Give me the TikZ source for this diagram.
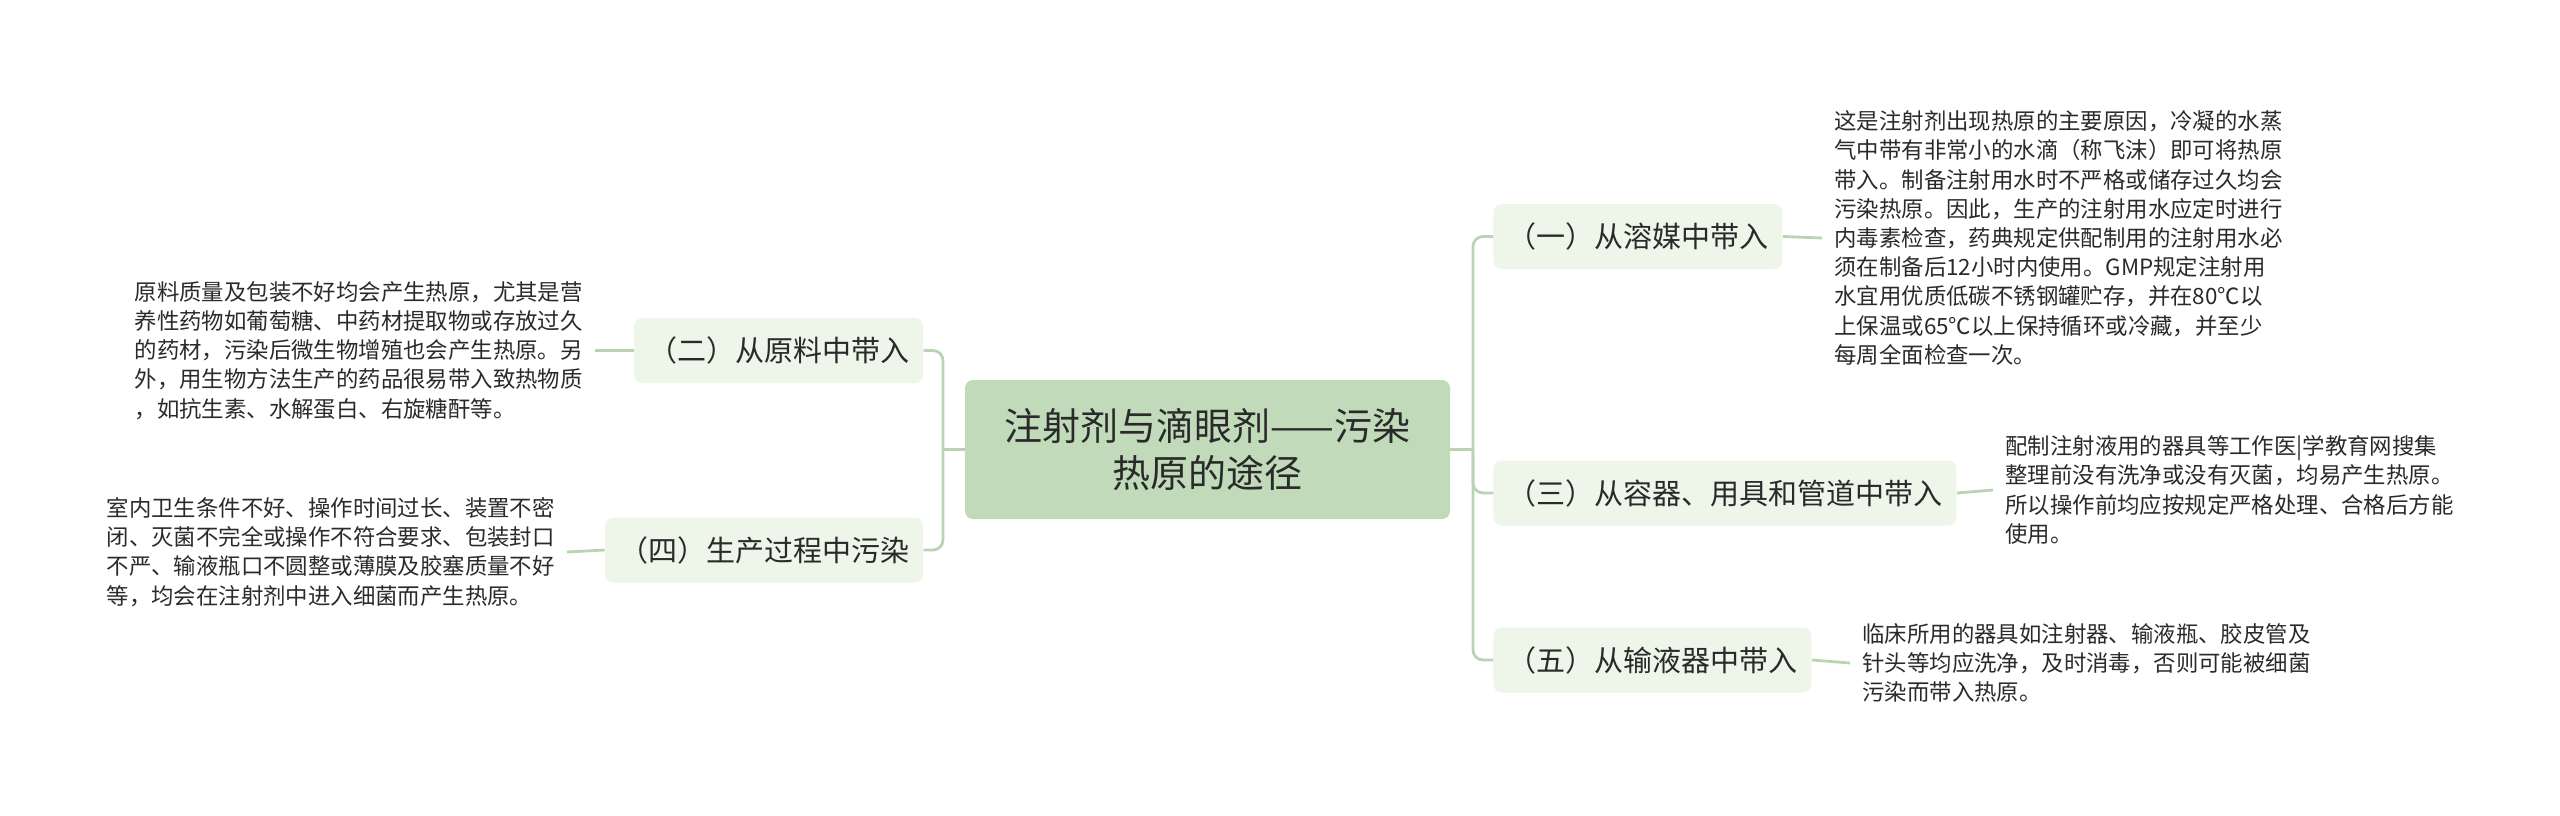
\documentclass[tikz,border=0pt]{standalone}
\usepackage{fontspec}
\setmainfont{Noto Sans CJK SC}
\definecolor{rootgreen}{HTML}{C1DBBA}
\definecolor{subgreen}{HTML}{EEF5E9}
\definecolor{linkgreen}{HTML}{BAD4B3}
\definecolor{textgray}{HTML}{2A2A2A}
\tikzset{
    rootbox/.style={fill=rootgreen, rounded corners=4pt, minimum width=242.5pt, minimum height=69.5pt, align=center, text=textgray, font=\fontsize{19}{23.5}\selectfont},
    subbox/.style={fill=subgreen, rounded corners=4pt, minimum height=32.5pt, inner xsep=7pt, text=textgray, font=\fontsize{14.5}{17}\selectfont},
    note/.style={align=left, inner xsep=6pt, text=textgray, font=\fontsize{11.2}{14.6}\selectfont},
    link/.style={draw=linkgreen, line width=1.4pt, rounded corners=5pt}
}
\begin{document}
\begin{tikzpicture}[x=0.5pt, y=-0.5pt]
    \useasboundingbox (0,0) rectangle (2560,815);

    \node[rootbox] (root) at (1207.5,449.5) {注射剂与滴眼剂——污染\\热原的途径};

    % right side
    \node[subbox, anchor=west] (solvent) at (1493,236.5) {（一）从溶媒中带入};
    \node[subbox, anchor=west] (vessel) at (1493,493) {（三）从容器、用具和管道中带入};
    \node[subbox, anchor=west] (infusion) at (1493,660) {（五）从输液器中带入};

    % left side
    \node[subbox, anchor=east] (material) at (923.5,350.5) {（二）从原料中带入};
    \node[subbox, anchor=east] (process) at (923.5,550) {（四）生产过程中污染};

    \node[note, anchor=west] (solventtxt) at (1822,238) {这是注射剂出现热原的主要原因，冷凝的水蒸\\气中带有非常小的水滴（称飞沫）即可将热原\\带入。制备注射用水时不严格或储存过久均会\\污染热原。因此，生产的注射用水应定时进行\\内毒素检查，药典规定供配制用的注射用水必\\须在制备后12小时内使用。GMP规定注射用\\水宜用优质低碳不锈钢罐贮存，并在80℃以\\上保温或65℃以上保持循环或冷藏，并至少\\每周全面检查一次。};
    \node[note, anchor=west] (vesseltxt) at (1993,490) {配制注射液用的器具等工作医|学教育网搜集\\整理前没有洗净或没有灭菌，均易产生热原。\\所以操作前均应按规定严格处理、合格后方能\\使用。};
    \node[note, anchor=west] (infusiontxt) at (1850,663) {临床所用的器具如注射器、输液瓶、胶皮管及\\针头等均应洗净，及时消毒，否则可能被细菌\\污染而带入热原。};
    \node[note, anchor=east] (materialtxt) at (595,350.5) {原料质量及包装不好均会产生热原，尤其是营\\养性药物如葡萄糖、中药材提取物或存放过久\\的药材，污染后微生物增殖也会产生热原。另\\外，用生物方法生产的药品很易带入致热物质\\，如抗生素、水解蛋白、右旋糖酐等。};
    \node[note, anchor=east] (processtxt) at (567,552) {室内卫生条件不好、操作时间过长、装置不密\\闭、灭菌不完全或操作不符合要求、包装封口\\不严、输液瓶口不圆整或薄膜及胶塞质量不好\\等，均会在注射剂中进入细菌而产生热原。};

    \coordinate (rj) at (1473,449.5);
    \coordinate (lj) at (943,449.5);

    \draw[link] (root.east) -- (rj);
    \draw[link] (root.west) -- (lj);
    \foreach \n in {solvent, vessel, infusion}
        \draw[link] (rj) |- (\n.west);
    \foreach \n in {material, process}
        \draw[link] (lj) |- (\n.east);

    \draw[link] (solvent.east) -- (solventtxt.west);
    \draw[link] (vessel.east) -- (vesseltxt.west);
    \draw[link] (infusion.east) -- (infusiontxt.west);
    \draw[link] (material.west) -- (materialtxt.east);
    \draw[link] (process.west) -- (processtxt.east);

\end{tikzpicture}
\end{document}
